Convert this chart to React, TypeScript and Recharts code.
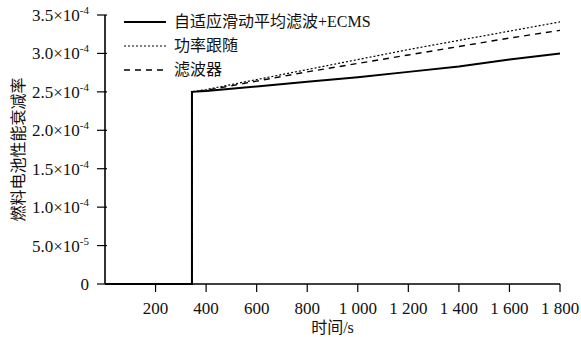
import { LineChart, Line, XAxis, YAxis } from 'recharts';

const times = [0, 344, 344, 400, 600, 800, 1000, 1200, 1400, 1600, 1800];
const adaptiveEcms = [0, 0, 2.5e-4, 2.51e-4, 2.57e-4, 2.63e-4, 2.69e-4, 2.76e-4, 2.83e-4, 2.92e-4, 3.0e-4];
const powerFollow = [0, 0, 2.5e-4, 2.53e-4, 2.66e-4, 2.79e-4, 2.92e-4, 3.05e-4, 3.17e-4, 3.29e-4, 3.41e-4];
const filterStrategy = [0, 0, 2.5e-4, 2.52e-4, 2.64e-4, 2.76e-4, 2.87e-4, 2.98e-4, 3.09e-4, 3.2e-4, 3.3e-4];

const xTicks = [200, 400, 600, 800, 1000, 1200, 1400, 1600, 1800];
const xTickLabels = ['200', '400', '600', '800', '1 000', '1 200', '1 400', '1 600', '1 800'];
const yTicks = [0, 5e-5, 1e-4, 1.5e-4, 2e-4, 2.5e-4, 3e-4, 3.5e-4];
const yTickMantissa = ['0', '5.0', '1.0', '1.5', '2.0', '2.5', '3.0', '3.5'];
const yTickExponent = ['', '-5', '-4', '-4', '-4', '-4', '-4', '-4'];

const seriesNames = ['自适应滑动平均滤波+ECMS', '功率跟随', '滤波器'];

const data = times.map((t, i) => ({
  t,
  a: adaptiveEcms[i],
  b: powerFollow[i],
  c: filterStrategy[i],
}));

const serif = 'Liberation Serif';
const cjk = 'Noto Sans CJK SC';

const renderYTick = ({ x, y, index }: any) => {
  const exp = yTickExponent[index];
  return (
    <g key={`y-${index}`} style={{ fontFamily: serif }}>
      <line x1={x} x2={x + 10} y1={y} y2={y} stroke="#000" strokeWidth={1.2} />
      <text x={x - 8} y={y + 6} textAnchor="end" fill="#111" fontFamily={serif} fontSize={17}>
        <tspan fontFamily={serif}>{yTickMantissa[index] + (exp ? '×10' : '')}</tspan>
        {exp ? (
          <tspan dy={-7} fontSize={11} fontFamily={serif}>
            {exp}
          </tspan>
        ) : null}
      </text>
    </g>
  );
};

const renderXTick = ({ x, y, index }: any) => (
  <g key={`x-${index}`} style={{ fontFamily: serif }}>
    <line x1={x} x2={x} y1={y} y2={y - 8} stroke="#000" strokeWidth={1.2} />
    <text x={x} y={y + 22} textAnchor="middle" fill="#111" fontFamily={serif} fontSize={17}>
      <tspan fontFamily={serif}>{xTickLabels[index]}</tspan>
    </text>
  </g>
);

function LegendBox() {
  const dashes = ['', '2 2', '6 5'];
  const widths = [2, 1.2, 1.4];
  return (
    <div style={{ position: 'absolute', left: 124, top: 10, display: 'flex', flexDirection: 'column' }}>
      {seriesNames.map((name, i) => (
        <div key={name} style={{ display: 'flex', alignItems: 'center', height: 24 }}>
          <svg width={44} height={10}>
            <line x1={0} x2={42} y1={5} y2={5} stroke="#000" strokeWidth={widths[i]} strokeDasharray={dashes[i]} />
          </svg>
          <span style={{ fontFamily: `${serif}, ${cjk}`, fontSize: 16, color: '#111', marginLeft: 6, lineHeight: '20px' }}>
            {name}
          </span>
        </div>
      ))}
    </div>
  );
}

export default function App() {
  return (
    <div style={{ position: 'absolute', left: 0, top: 0, width: 581, height: 337, background: '#fff', fontFamily: serif }}>
      <LineChart
        width={581}
        height={337}
        data={data}
        margin={{ top: 15, right: 21, bottom: 0, left: 0 }}
        style={{ fontFamily: serif }}
      >
        <XAxis
          dataKey="t"
          type="number"
          domain={[0, 1800]}
          ticks={xTicks}
          tick={renderXTick}
          tickLine={false}
          axisLine={{ stroke: '#000', strokeWidth: 1.6 }}
          height={53}
          interval={0}
          label={{ value: '时间/s', position: 'insideBottom', offset: 4, style: { fontFamily: `${serif}, ${cjk}`, fontSize: 16 }, fill: '#111' }}
        />
        <YAxis
          type="number"
          domain={[0, 3.5e-4]}
          ticks={yTicks}
          tick={renderYTick}
          tickLine={false}
          axisLine={{ stroke: '#000', strokeWidth: 1.6 }}
          width={105}
          interval={0}
          label={{ value: '燃料电池性能衰减率', angle: -90, position: 'insideLeft', offset: 18, style: { textAnchor: 'middle', fontFamily: cjk, fontSize: 16 }, fill: '#111' }}
        />
        <Line dataKey="b" type="linear" stroke="#000" strokeWidth={1.2} strokeDasharray="2 2" dot={false} isAnimationActive={false} />
        <Line dataKey="c" type="linear" stroke="#000" strokeWidth={1.4} strokeDasharray="6 5" dot={false} isAnimationActive={false} />
        <Line dataKey="a" type="linear" stroke="#000" strokeWidth={2} dot={false} isAnimationActive={false} />
      </LineChart>
      <LegendBox />
    </div>
  );
}
